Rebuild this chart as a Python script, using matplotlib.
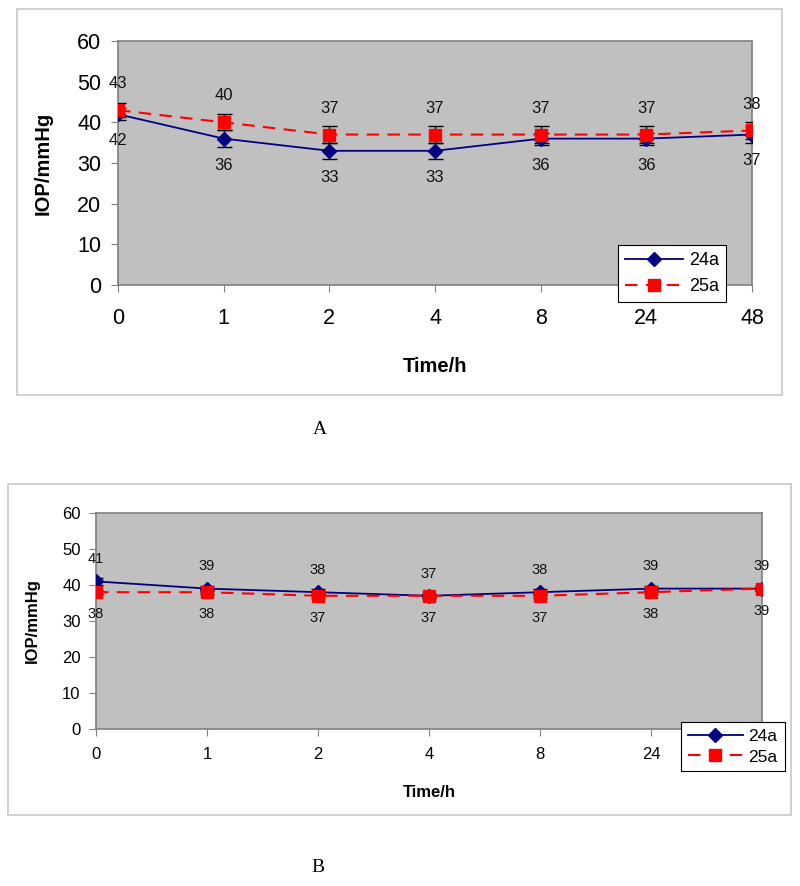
import numpy as np
import matplotlib.pyplot as plt
from matplotlib.patches import Rectangle

plt.rcParams['font.family'] = ['Liberation Sans', 'DejaVu Sans']

# Data
times = ['0', '1', '2', '4', '8', '24', '48']

a_24a = [42, 36, 33, 33, 36, 36, 37]
a_25a = [43, 40, 37, 37, 37, 37, 38]
a_err_24a = [1.5, 2, 2, 2, 1.5, 1.5, 2]
a_err_25a = [1.7, 2, 2, 2, 2, 2, 2]

b_24a = [41, 39, 38, 37, 38, 39, 39]
b_25a = [38, 38, 37, 37, 37, 38, 39]
b_err_24a = [0.9, 0.8, 0.8, 0.6, 0.8, 0.8, 0.6]
b_err_25a = [0.6, 0.6, 0.6, 0.6, 0.6, 0.6, 0.6]

fig = plt.figure(figsize=(8, 8.86), dpi=100)

# outer chart frames
for (l, b, w, h) in [(0.02125, 0.5542, 0.95625, 0.4357), (0.01, 0.0801, 0.97875, 0.3736)]:
    fig.patches.append(Rectangle((l, b), w, h, transform=fig.transFigure,
                                 fill=False, edgecolor='#c8c8c8', lw=1.2))


def draw_panel(ax, s24, s25, e24, e25, fs_tick, fs_lab, fs_data, off, ms, top24,
               xlabel_y, ylabel_x, xpad, ypad, leg_anchor, fs_leg, hlen, lspace):
    x = np.arange(len(times))
    ax.set_facecolor('#c0c0c0')
    for sp in ax.spines.values():
        sp.set_color('#808080')
        sp.set_linewidth(1.2)
    ax.errorbar(x, s24, yerr=e24, fmt='none', ecolor='black', elinewidth=1,
                capsize=ms * 0.6, capthick=1, zorder=3)
    ax.errorbar(x, s25, yerr=e25, fmt='none', ecolor='black', elinewidth=1,
                capsize=ms * 0.6, capthick=1, zorder=3)
    ax.plot(x, s24, color='#000080', lw=1.3, marker='D', markersize=ms * 0.8,
            label='24a', zorder=4)
    ax.plot(x, s25, color='#ff0000', lw=1.5, ls=(0, (6, 4)), marker='s',
            markersize=ms, label='25a', zorder=5)
    for i in range(len(x)):
        up, dn = (s24[i], s25[i]) if top24 else (s25[i], s24[i])
        ax.annotate(str(up), (x[i], up), xytext=(0, off), textcoords='offset points',
                    ha='center', va='center', fontsize=fs_data, color='#111111')
        ax.annotate(str(dn), (x[i], dn), xytext=(0, -off), textcoords='offset points',
                    ha='center', va='center', fontsize=fs_data, color='#111111')
    ax.set_xlim(0, len(x) - 1)
    ax.set_ylim(0, 60)
    ax.set_xticks(x)
    ax.set_xticklabels(times)
    ax.set_yticks(np.arange(0, 61, 10))
    ax.tick_params(axis='x', length=5, color='#808080', pad=xpad, labelsize=fs_tick)
    ax.tick_params(axis='y', length=5, color='#808080', pad=ypad, labelsize=fs_tick)
    ax.set_xlabel('Time/h', fontsize=fs_lab, fontweight='bold')
    ax.set_ylabel('IOP/mmHg', fontsize=fs_lab, fontweight='bold')
    ax.xaxis.set_label_coords(0.5, xlabel_y)
    ax.yaxis.set_label_coords(ylabel_x, 0.5)
    leg = ax.legend(loc='upper left', bbox_to_anchor=leg_anchor, fancybox=False,
                    edgecolor='black', framealpha=1, fontsize=fs_leg, borderaxespad=0,
                    handlelength=hlen, handletextpad=0.3, borderpad=0.4,
                    labelspacing=lspace)
    leg.get_frame().set_linewidth(0.8)
    leg.set_zorder(10)
    leg.set_clip_on(False)


ax1 = fig.add_axes([0.1475, 0.6783, 0.7925, 0.2754])
draw_panel(ax1, a_24a, a_25a, a_err_24a, a_err_25a, fs_tick=15.5, fs_lab=14.5,
           fs_data=12, off=19, ms=9, top24=False, xlabel_y=-0.295, ylabel_x=-0.1025,
           xpad=11.5, ypad=7, leg_anchor=(0.789, 0.164), fs_leg=13, hlen=3.2,
           lspace=0.5)

ax2 = fig.add_axes([0.12, 0.1772, 0.8325, 0.2438])
draw_panel(ax2, b_24a, b_25a, b_err_24a, b_err_25a, fs_tick=12, fs_lab=12,
           fs_data=10.5, off=16, ms=8.5, top24=True, xlabel_y=-0.259, ylabel_x=-0.084,
           xpad=8, ypad=6, leg_anchor=(0.878, 0.032), fs_leg=12.5, hlen=3.2,
           lspace=0.3)
# the last tick label sits under the legend in panel B
ax2.get_xticklabels()[-1].set_visible(False)

fig.text(0.4, 1 - 430 / 886, 'A', fontsize=14, family='Liberation Serif',
         ha='center', va='center')
fig.text(0.3975, 1 - 868 / 886, 'B', fontsize=14, family='Liberation Serif',
         ha='center', va='center')

fig.savefig('out.png', dpi=100)
